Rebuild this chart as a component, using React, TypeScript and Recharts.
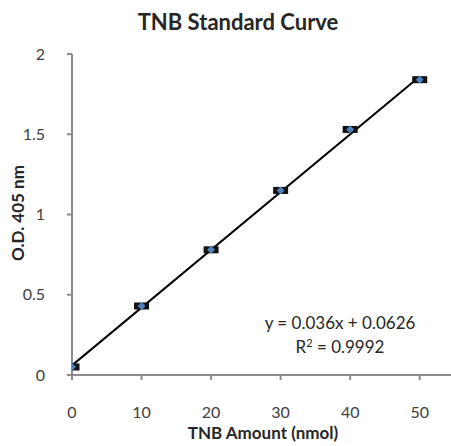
import { ComposedChart, Scatter, XAxis, YAxis } from "recharts";

const amounts = [0, 10, 20, 30, 40, 50];
const odValues = [0.05, 0.43, 0.78, 1.15, 1.53, 1.84];
const trendX = [0, 50];
const trendY = [0.06, 1.86];
const xTicks = [0, 10, 20, 30, 40, 50];
const yTicks = [0, 0.5, 1, 1.5, 2];

const points = amounts.map((x, i) => ({ x, y: odValues[i] }));
const trend = trendX.map((x, i) => ({ x, y: trendY[i] }));

const FONT = "Lato, 'Open Sans', sans-serif";
const AXIS = "#8c8c8c";
const TEXT = "#262626";

function Marker(props: any) {
  const { cx, cy } = props;
  if (cx == null || cy == null) return null;
  return (
    <g>
      <rect x={cx - 7.5} y={cy - 3.5} width={15} height={7} fill="#111" />
      <path
        d={`M${cx} ${cy - 4} L${cx + 4} ${cy} L${cx} ${cy + 4} L${cx - 4} ${cy} Z`}
        fill="#4f81bd"
      />
    </g>
  );
}

export default function App() {
  return (
    <div
      style={{
        position: "absolute",
        left: 0,
        top: 0,
        width: 451,
        height: 446,
        background: "#fff",
        fontFamily: FONT,
        color: TEXT,
        overflow: "hidden",
      }}
    >
      <div
        style={{
          position: "absolute",
          top: 8,
          left: 0,
          width: 476,
          textAlign: "center",
          fontWeight: 700,
          fontSize: 22,
          lineHeight: "28px",
        }}
      >
        TNB Standard Curve
      </div>
      <ComposedChart
        width={451}
        height={446}
        margin={{ top: 54, right: 0, left: 0, bottom: 0 }}
      >
        <XAxis
          type="number"
          dataKey="x"
          domain={[0, 54.5]}
          ticks={xTicks}
          allowDataOverflow
          height={71}
          stroke={AXIS}
          strokeWidth={2}
          tickSize={5}
          tickMargin={27}
          tick={{ fill: "#404040", fontSize: 16, fontFamily: FONT }}
        />
        <YAxis
          type="number"
          dataKey="y"
          domain={[0, 2]}
          ticks={yTicks}
          width={72}
          stroke={AXIS}
          strokeWidth={2}
          tickSize={5}
          tickMargin={22}
          tick={{ fill: "#404040", fontSize: 16, fontFamily: FONT }}
        />
        <Scatter
          data={trend}
          line={{ stroke: "#000", strokeWidth: 2 }}
          shape={() => <g />}
          isAnimationActive={false}
        />
        <Scatter data={points} shape={Marker} isAnimationActive={false} />
      </ComposedChart>
      <div
        style={{
          position: "absolute",
          top: 423,
          left: 163,
          width: 200,
          textAlign: "center",
          fontWeight: 700,
          fontSize: 17,
          lineHeight: "20px",
        }}
      >
        TNB Amount (nmol)
      </div>
      <div
        style={{
          position: "absolute",
          top: 202,
          left: -82,
          width: 200,
          textAlign: "center",
          fontWeight: 700,
          fontSize: 17,
          lineHeight: "22px",
          transform: "rotate(-90deg)",
        }}
      >
        O.D. 405 nm
      </div>
      <div
        style={{
          position: "absolute",
          top: 311,
          left: 240,
          width: 200,
          textAlign: "center",
          fontSize: 17,
          lineHeight: "24px",
        }}
      >
        <div>y = 0.036x + 0.0626</div>
        <div>
          R
          <span style={{ fontSize: 11, verticalAlign: "top", lineHeight: "16px" }}>2</span>
          {" = 0.9992"}
        </div>
      </div>
    </div>
  );
}
